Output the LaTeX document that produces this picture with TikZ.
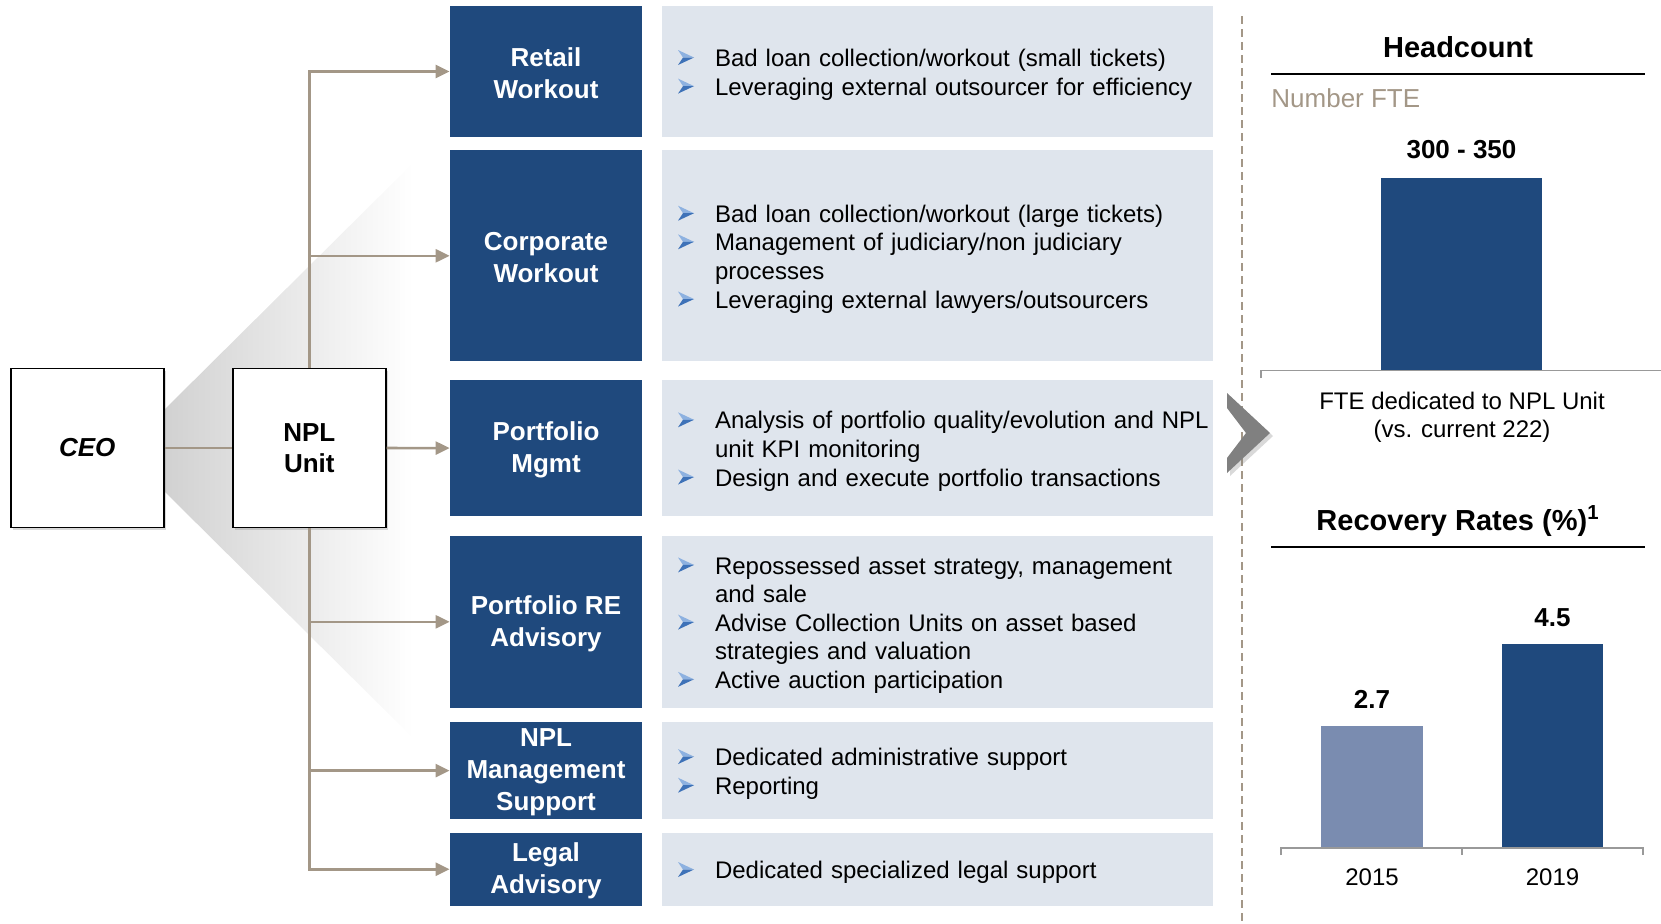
\documentclass[tikz,border=0pt]{standalone}
\usepackage{fontspec}
\setmainfont{Liberation Sans}
\usetikzlibrary{arrows.meta,shadows,positioning}
\definecolor{navy}{HTML}{1F497D}
\definecolor{paleblue}{HTML}{DFE5ED}
\definecolor{taupe}{HTML}{A39787}
\definecolor{steel}{HTML}{7A8CB0}
\definecolor{bulletlight}{HTML}{8DB1E0}
\definecolor{bulletdark}{HTML}{3E72B8}
\newcommand{\bul}{\makebox[18.5pt][l]{\raisebox{0.8pt}{\tikz{
  \fill[bulletlight] (0pt,7.5pt) -- (8pt,3.75pt) -- (2.5pt,3.75pt) -- cycle;
  \fill[bulletdark] (0pt,0pt) -- (8pt,3.75pt) -- (2.5pt,3.75pt) -- cycle;}}}}
\newcommand{\ind}{\hspace*{18.5pt}}
\begin{document}
\begin{tikzpicture}[x=0.5pt,y=-0.5pt,
  every node/.style={inner sep=0pt},
  orgbox/.style={draw=black,line width=0.9pt,fill=white,minimum width=76.5pt,minimum height=79.5pt,
    align=center,font=\bfseries\fontsize{13}{15.6}\selectfont,
    drop shadow={shadow xshift=1.2pt,shadow yshift=-1.2pt,opacity=0.3}},
  unitbox/.style={fill=navy,minimum width=96pt},
  unitlabel/.style={text=white,align=center,font=\bfseries\fontsize{13}{16}\selectfont},
  taskbox/.style={fill=paleblue,minimum width=275.5pt},
  tasklist/.style={text width=275.5pt,align=left,font=\fontsize{12}{14.3}\selectfont,
    execute at begin node={\leftskip=8pt\relax}},
  link/.style={draw=taupe,line width=1.3pt},
  arr/.style={link,-{Triangle[length=7pt,width=6.5pt]}},
  bar/.style={anchor=south,minimum width=50.75pt},
  rule/.style={line width=1pt},
  axis/.style={draw=black!40,line width=0.6pt}]

  \useasboundingbox (0,0) rectangle (1661,923);

  % fan behind the org chart
  \shade[left color=black!18,right color=white] (164,410) -- (413,163) -- (413,738) -- (164,491) -- cycle;

  \node[orgbox,font=\bfseries\itshape\fontsize{13}{15.6}\selectfont] (ceo) at (87.3,448) {CEO};
  \node[orgbox] (npl) at (309.3,448) {NPL\\Unit};
  \draw[link] (ceo) -- (npl);

  % units and their tasks
  \foreach \nm/\cy/\h/\lbl/\txt in {
    retail/71.5/65.1pt/{Retail\\Workout}/{\bul Bad loan collection/workout (small tickets)\\
      \bul Leveraging external outsourcer for efficiency},
    corp/255.8/105.4pt/{Corporate\\Workout}/{\bul Bad loan collection/workout (large tickets)\\
      \bul Management of judiciary/non judiciary\\ \ind processes\\
      \bul Leveraging external lawyers/outsourcers},
    pm/448.1/67.8pt/{Portfolio\\Mgmt}/{\bul Analysis of portfolio quality/evolution and NPL\\
      \ind unit KPI monitoring\\ \bul Design and execute portfolio transactions},
    re/621.8/85.8pt/{Portfolio RE\\Advisory}/{\bul Repossessed asset strategy, management\\
      \ind and sale\\ \bul Advise Collection Units on asset based\\
      \ind strategies and valuation\\ \bul Active auction participation},
    sup/770.6/48.2pt/{NPL\\Management\\Support}/{\bul Dedicated administrative support\\
      \bul Reporting},
    legal/869.2/36.6pt/{Legal\\Advisory}/{\bul Dedicated specialized legal support}}{
    \node[unitbox,minimum height=\h] (\nm) at (546,\cy) {};
    \node[unitlabel] (\nm-l) at ([yshift=-1pt]\nm.center) {\lbl};
    \node[taskbox,minimum height=\h] (\nm-t) at (937.5,\cy) {};
    \node[tasklist] (\nm-x) at ([yshift=-1.6pt]\nm-t.center) {\txt};
  }

  \foreach \nm in {retail,corp}\draw[arr] (npl.north) |- (\nm.west);
  \draw[arr] (npl) -- (pm);
  \foreach \nm in {re,sup,legal}\draw[arr] (npl.south) |- (\nm.west);

  % divider
  \draw[taupe,line width=1pt,dash pattern=on 4pt off 2.5pt] (1241.5,16) -- (1241.5,923);
  \fill[black!50,drop shadow={shadow xshift=1.5pt,shadow yshift=-1.5pt,opacity=0.3}]
    (1227,393) -- (1270,433) -- (1227,473) -- (1227,458) -- (1246,433) -- (1227,408) -- cycle;

  % headcount
  \node[font=\bfseries\fontsize{14.5}{17}\selectfont] (hc) at (1458,47) {Headcount};
  \draw[rule] (1271,74) -- (1645,74);
  \node[anchor=west,text=taupe,font=\fontsize{13}{15}\selectfont] (fte) at (1271,98) {Number FTE};
  \node[bar,fill=navy,minimum width=80.5pt,minimum height=96pt] (hcbar) at (1461.5,370.5) {};
  \node[above=9.5pt of hcbar,font=\bfseries\fontsize{13}{15}\selectfont] (hcval) {300 - 350};
  \draw[axis] (1261,378) -- (1261,370.5) -- (1661,370.5);
  \node[align=center,font=\fontsize{12}{14}\selectfont] (hccap) at (1462,417) {FTE dedicated to NPL Unit\\(vs. current 222)};

  % recovery rates
  \node[font=\bfseries\fontsize{14.5}{17}\selectfont] (rr) at (1458,521) {Recovery Rates (\%)\textsuperscript{1}};
  \draw[rule] (1271,547) -- (1645,547);
  \node[bar,fill=steel,minimum height=61pt] (b15) at (1372,848) {};
  \node[bar,fill=navy,minimum height=102pt] (b19) at (1552.5,848) {};
  \node[above=8pt of b15,font=\bfseries\fontsize{13}{15}\selectfont] (v15) {2.7};
  \node[above=8pt of b19,font=\bfseries\fontsize{13}{15}\selectfont] (v19) {4.5};
  \draw[axis] (1281,855) -- (1281,848) -- (1643,848) -- (1643,855);
  \draw[axis] (1462,848) -- (1462,855);
  \node[below=10.3pt of b15,font=\fontsize{12}{14}\selectfont] (y15) {2015};
  \node[below=10.3pt of b19,font=\fontsize{12}{14}\selectfont] (y19) {2019};

\end{tikzpicture}
\end{document}
